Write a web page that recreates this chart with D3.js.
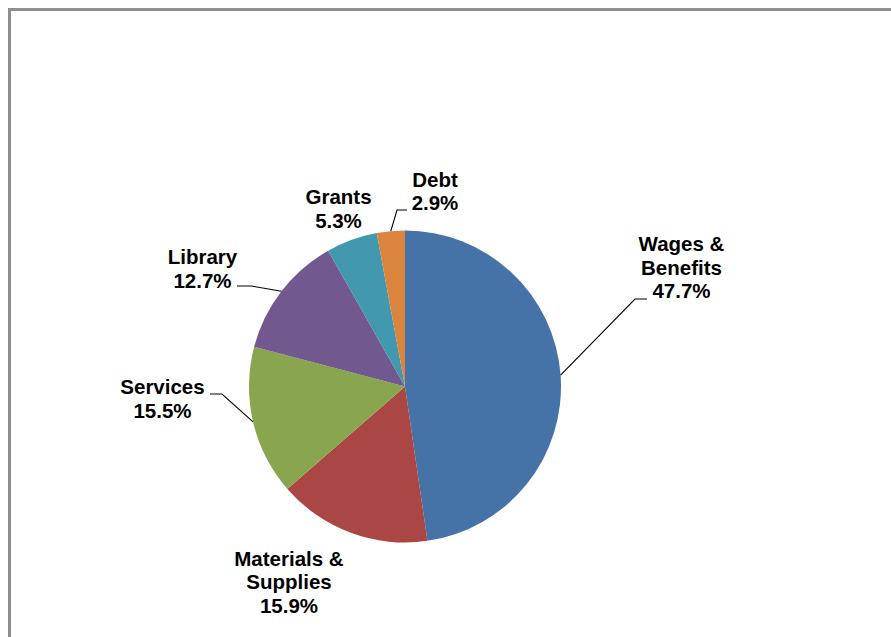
<!DOCTYPE html>
<html>
<head>
<meta charset="utf-8">
<script src="https://cdn.jsdelivr.net/npm/d3@7"></script>
<style>
  html, body { margin: 0; padding: 0; background: #fff; }
  svg { display: block; }
  text { font-family: "Liberation Sans", Arial, sans-serif; font-weight: bold; font-size: 20.5px; fill: #000; }
</style>
</head>
<body>
<svg id="chart" width="891" height="637"></svg>
<script>
// Budget shares by category (percent), clockwise from 12 o'clock
const categories = ["Wages & Benefits", "Materials & Supplies", "Services", "Library", "Grants", "Debt"];
const shares = [47.7, 15.9, 15.5, 12.7, 5.3, 2.9];
const colors = ["#4572A7", "#AA4643", "#89A54E", "#71588F", "#4198AF", "#DB843D"];

// Label placement: text lines, centre x, first baseline, leader elbow + end
const labelLayout = {
  "Wages & Benefits":     { lines: ["Wages &", "Benefits"],    x: 681.5, y: 251,   leader: [[635, 299], [647, 299]] },
  "Materials & Supplies": { lines: ["Materials &", "Supplies"], x: 289,   y: 565.7, leader: null },
  "Services":             { lines: ["Services"],               x: 162.5, y: 394.3, leader: [[222, 394], [210, 394]] },
  "Library":              { lines: ["Library"],                x: 202.5, y: 264.3, leader: [[251.5, 286], [237, 286]] },
  "Grants":               { lines: ["Grants"],                 x: 338.5, y: 204.3, leader: null },
  "Debt":                 { lines: ["Debt"],                   x: 435,   y: 186.7, leader: [[397, 210], [407, 210]] }
};

const svg = d3.select("#chart");
const cx = 405, cy = 386.5, radius = 156, lineStep = 23.6;

// Chart frame
svg.append("rect")
  .attr("x", 9.5).attr("y", 9.5)
  .attr("width", 900).attr("height", 650)
  .attr("fill", "none")
  .attr("stroke", "#8e8e8e")
  .attr("stroke-width", 3);

const data = categories.map((c, i) => ({ category: c, value: shares[i], color: colors[i] }));

const pie = d3.pie().value(d => d.value).sort(null);
const arcs = pie(data);
const arc = d3.arc().innerRadius(0).outerRadius(radius);

const g = svg.append("g").attr("transform", `translate(${cx},${cy})`);
g.selectAll("path.slice")
  .data(arcs)
  .join("path")
  .attr("class", "slice")
  .attr("d", arc)
  .attr("fill", d => d.data.color);

// Leader lines from slice edge (mid-angle) to label
arcs.forEach(a => {
  const lay = labelLayout[a.data.category];
  if (!lay.leader) return;
  const mid = (a.startAngle + a.endAngle) / 2;
  const ex = cx + radius * Math.sin(mid);
  const ey = cy - radius * Math.cos(mid);
  const pts = [[ex, ey], ...lay.leader];
  svg.append("path")
    .attr("d", d3.line()(pts))
    .attr("fill", "none")
    .attr("stroke", "#000")
    .attr("stroke-width", 1.1);
});

// Labels: category name lines + percentage
arcs.forEach(a => {
  const lay = labelLayout[a.data.category];
  const lines = [...lay.lines, d3.format(".1f")(a.data.value) + "%"];
  const t = svg.append("text").attr("text-anchor", "middle");
  lines.forEach((ln, i) => {
    t.append("tspan").attr("x", lay.x).attr("y", lay.y + i * lineStep).text(ln);
  });
});
</script>
</body>
</html>
